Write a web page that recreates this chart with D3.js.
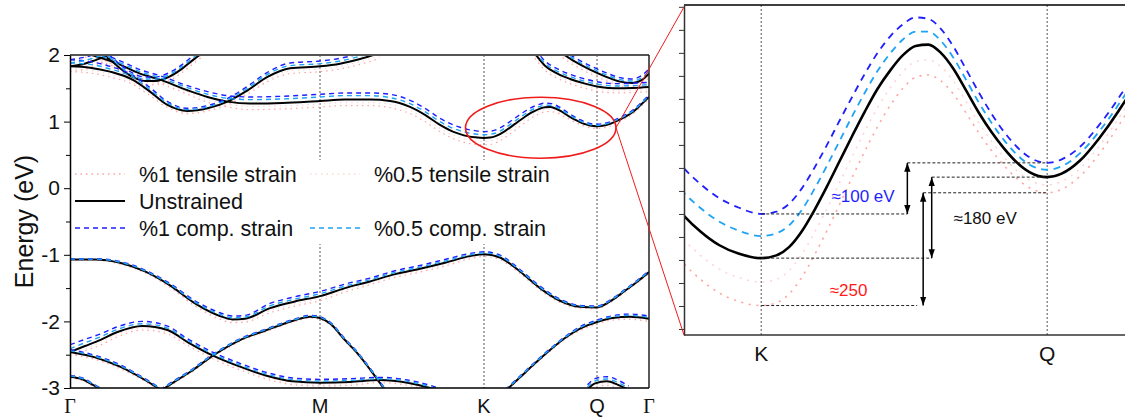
<!DOCTYPE html>
<html>
<head>
<meta charset="utf-8">
<script src="https://cdn.jsdelivr.net/npm/d3@7"></script>
<style>
  body { margin: 0; background: #fff; }
  svg text { font-family: "Liberation Sans", Arial, sans-serif; fill: #111; }
</style>
</head>
<body>
<svg id="chart" width="1125" height="418"></svg>
<script>
// high symmetry points along the k-path
const symLabels = ["Γ", "M", "K", "Q", "Γ"];
const symK = [0, 1, 1.656, 2.108, 2.316];
const energyTicks = [2, 1, 0, -1, -2, -3];
const minorTicks = [1.5, 0.5, -0.5, -1.5, -2.5];
const zoomTicks = [0.6, 0.65, 0.7, 0.75, 0.8, 0.85, 0.9, 0.95, 1.0, 1.05, 1.1, 1.15, 1.2, 1.25, 1.3];

// k grids, one per band
const kCbA = [0, 0.08, 0.16, 0.25, 0.32, 0.39, 0.47, 0.55, 0.63, 0.71, 0.79, 0.88, 1.0, 1.08, 1.16, 1.24];
const kCbB = [0.06, 0.12, 0.19, 0.28, 0.36, 0.47, 0.55, 0.63, 0.72, 0.85, 1.0, 1.1, 1.2, 1.28, 1.36, 1.42, 1.48,
  1.534, 1.56, 1.59, 1.62, 1.656, 1.68, 1.70, 1.72, 1.74, 1.76, 1.78, 1.80, 1.82, 1.84, 1.86, 1.88, 1.90, 1.92,
  1.94, 1.96, 1.98, 2.00, 2.02, 2.04, 2.06, 2.08, 2.108, 2.13, 2.16, 2.19, 2.22, 2.25, 2.28, 2.316];
const kCbC = [0, 0.05, 0.10, 0.15, 0.19];
const kCbD = [0.12, 0.16, 0.20, 0.25, 0.30, 0.34, 0.40, 0.45, 0.50, 0.53];
const kCbE = [1.86, 1.90, 1.95, 2.00, 2.06, 2.12, 2.18, 2.25, 2.316];
const kCbF = [1.97, 2.02, 2.08, 2.14, 2.20, 2.25, 2.29, 2.316];
const kVb1 = [0, 0.1, 0.2, 0.3, 0.4, 0.5, 0.6, 0.65, 0.7, 0.8, 0.9, 1.0, 1.1, 1.2, 1.3, 1.4, 1.5, 1.6, 1.656,
  1.72, 1.8, 1.88, 1.96, 2.04, 2.108, 2.16, 2.22, 2.27, 2.316];
const kVb2a = [0, 0.06, 0.12, 0.19, 0.29, 0.39, 0.47, 0.57, 0.68, 0.79, 0.89, 1.0, 1.12, 1.24, 1.35, 1.44, 1.48];
const kVb2b = [0, 0.1, 0.2, 0.3, 0.36];
const kVb3 = [0.36, 0.42, 0.48, 0.573, 0.68, 0.787, 0.893, 0.96, 1.0, 1.04, 1.1, 1.15, 1.2, 1.26];
const kVb4 = [0, 0.05, 0.09, 0.13];
const kVb5 = [1.74, 1.8, 1.86, 1.92, 1.98, 2.04, 2.108, 2.17, 2.24, 2.316];
const kVb6 = [2.07, 2.10, 2.148, 2.19, 2.235];
const bandK = [kCbA, kCbB, kCbC, kCbD, kCbE, kCbF, kVb1, kVb2a, kVb2b, kVb3, kVb4, kVb5, kVb6];

// energies (eV), same band order as bandK
const unstrained = [
  [1.83, 1.81, 1.75, 1.63, 1.45, 1.25, 1.16, 1.20, 1.30, 1.47, 1.67, 1.80, 1.83, 1.87, 1.94, 2.03],
  [2.03, 1.96, 1.87, 1.72, 1.63, 1.47, 1.37, 1.30, 1.27, 1.28, 1.31, 1.33, 1.33, 1.31, 1.22, 1.10, 0.95,
   0.846, 0.812, 0.782, 0.764, 0.754, 0.760, 0.778, 0.812, 0.858, 0.910, 0.965, 1.020, 1.073, 1.122, 1.162,
   1.195, 1.215, 1.218, 1.200, 1.165, 1.118, 1.070, 1.028, 0.992, 0.962, 0.941, 0.930, 0.937, 0.966, 1.014,
   1.072, 1.14, 1.24, 1.37],
  [1.83, 1.86, 1.92, 1.99, 2.05],
  [2.02, 1.93, 1.80, 1.67, 1.61, 1.61, 1.68, 1.80, 1.95, 2.03],
  [2.02, 1.84, 1.72, 1.64, 1.57, 1.52, 1.50, 1.505, 1.52],
  [2.02, 1.90, 1.78, 1.68, 1.60, 1.58, 1.63, 1.72],
  [-1.07, -1.07, -1.12, -1.25, -1.46, -1.73, -1.92, -1.97, -1.96, -1.80, -1.70, -1.62, -1.50, -1.40, -1.29,
   -1.21, -1.12, -1.02, -0.99, -1.04, -1.25, -1.50, -1.69, -1.78, -1.79, -1.70, -1.54, -1.40, -1.26],
  [-2.46, -2.37, -2.28, -2.16, -2.07, -2.13, -2.31, -2.51, -2.68, -2.82, -2.90, -2.92, -2.91, -2.88, -2.92, -3.0, -3.05],
  [-2.46, -2.54, -2.68, -2.88, -3.02],
  [-3.05, -2.90, -2.76, -2.51, -2.28, -2.13, -1.99, -1.93, -1.95, -2.03, -2.28, -2.48, -2.72, -3.03],
  [-2.83, -2.87, -2.95, -3.04],
  [-3.05, -2.84, -2.63, -2.43, -2.25, -2.11, -2.01, -1.95, -1.93, -1.96],
  [-3.02, -2.93, -2.90, -2.95, -3.03]
];
const comp1 = [
  [1.93, 1.90, 1.83, 1.70, 1.51, 1.30, 1.20, 1.24, 1.35, 1.53, 1.74, 1.88, 1.91, 1.95, 2.02, 2.11],
  [2.09, 2.02, 1.93, 1.78, 1.69, 1.54, 1.45, 1.39, 1.37, 1.38, 1.41, 1.43, 1.43, 1.41, 1.32, 1.20, 1.05,
   0.949, 0.915, 0.884, 0.864, 0.850, 0.855, 0.872, 0.905, 0.950, 1.000, 1.053, 1.105, 1.155, 1.200, 1.236,
   1.262, 1.277, 1.274, 1.252, 1.213, 1.164, 1.114, 1.068, 1.028, 0.996, 0.973, 0.961, 0.968, 0.996, 1.043,
   1.100, 1.168, 1.268, 1.40],
  [1.93, 1.96, 2.01, 2.08, 2.14],
  [2.08, 1.99, 1.86, 1.73, 1.67, 1.67, 1.74, 1.86, 2.01, 2.09],
  [2.09, 1.91, 1.79, 1.71, 1.64, 1.59, 1.57, 1.575, 1.59],
  [2.08, 1.96, 1.84, 1.74, 1.66, 1.64, 1.70, 1.79],
  [-1.06, -1.06, -1.10, -1.23, -1.43, -1.69, -1.87, -1.92, -1.91, -1.73, -1.63, -1.55, -1.44, -1.35, -1.24,
   -1.16, -1.07, -0.98, -0.955, -1.005, -1.22, -1.47, -1.665, -1.76, -1.77, -1.68, -1.52, -1.38, -1.24],
  [-2.35, -2.27, -2.19, -2.08, -2.00, -2.07, -2.26, -2.46, -2.63, -2.77, -2.85, -2.87, -2.86, -2.84, -2.88, -2.96, -3.01],
  [-2.42, -2.51, -2.65, -2.86, -3.00],
  [-3.03, -2.88, -2.74, -2.49, -2.26, -2.11, -1.97, -1.91, -1.93, -2.01, -2.26, -2.46, -2.70, -3.01],
  [-2.81, -2.85, -2.93, -3.02],
  [-3.03, -2.82, -2.61, -2.41, -2.23, -2.08, -1.98, -1.915, -1.89, -1.92],
  [-2.95, -2.86, -2.83, -2.88, -2.97]
];
const comp05 = [
  [1.88, 1.86, 1.79, 1.67, 1.48, 1.28, 1.18, 1.22, 1.33, 1.50, 1.71, 1.84, 1.87, 1.91, 1.98, 2.07],
  [2.06, 1.99, 1.90, 1.75, 1.66, 1.51, 1.41, 1.35, 1.33, 1.34, 1.37, 1.39, 1.39, 1.36, 1.27, 1.15, 1.00,
   0.896, 0.863, 0.833, 0.814, 0.802, 0.808, 0.825, 0.858, 0.904, 0.955, 1.009, 1.063, 1.114, 1.161, 1.199,
   1.229, 1.246, 1.246, 1.226, 1.189, 1.141, 1.092, 1.048, 1.010, 0.979, 0.957, 0.946, 0.953, 0.982, 1.029,
   1.086, 1.154, 1.254, 1.385],
  [1.88, 1.91, 1.96, 2.03, 2.09],
  [2.05, 1.96, 1.83, 1.70, 1.64, 1.64, 1.71, 1.83, 1.98, 2.06],
  [2.055, 1.875, 1.755, 1.675, 1.605, 1.555, 1.535, 1.54, 1.555],
  [2.05, 1.93, 1.81, 1.71, 1.63, 1.61, 1.665, 1.755],
  [-1.065, -1.065, -1.11, -1.24, -1.445, -1.71, -1.895, -1.945, -1.935, -1.765, -1.665, -1.585, -1.47, -1.375,
   -1.265, -1.185, -1.095, -1.0, -0.972, -1.022, -1.235, -1.485, -1.678, -1.77, -1.78, -1.69, -1.53, -1.39, -1.25],
  [-2.41, -2.32, -2.235, -2.12, -2.035, -2.10, -2.285, -2.485, -2.655, -2.795, -2.875, -2.895, -2.885, -2.86, -2.90, -2.98, -3.03],
  [-2.44, -2.525, -2.665, -2.87, -3.01],
  [-3.04, -2.89, -2.75, -2.50, -2.27, -2.12, -1.98, -1.92, -1.94, -2.02, -2.27, -2.47, -2.71, -3.02],
  [-2.82, -2.86, -2.94, -3.03],
  [-3.04, -2.83, -2.62, -2.42, -2.24, -2.095, -1.995, -1.93, -1.91, -1.94],
  [-2.985, -2.895, -2.865, -2.915, -3.0]
];
const tens05 = [
  [1.79, 1.77, 1.71, 1.59, 1.42, 1.23, 1.14, 1.18, 1.27, 1.44, 1.63, 1.76, 1.79, 1.83, 1.90, 1.99],
  [2.00, 1.93, 1.84, 1.69, 1.60, 1.44, 1.33, 1.26, 1.23, 1.235, 1.265, 1.285, 1.285, 1.26, 1.17, 1.05, 0.90,
   0.794, 0.760, 0.730, 0.712, 0.702, 0.708, 0.727, 0.762, 0.809, 0.862, 0.918, 0.975, 1.030, 1.081, 1.124,
   1.159, 1.181, 1.185, 1.170, 1.138, 1.094, 1.048, 1.008, 0.973, 0.944, 0.924, 0.913, 0.920, 0.949, 0.997,
   1.056, 1.125, 1.225, 1.355],
  [1.79, 1.82, 1.88, 1.95, 2.01],
  [1.99, 1.90, 1.77, 1.64, 1.58, 1.58, 1.65, 1.77, 1.92, 2.00],
  [1.985, 1.805, 1.685, 1.605, 1.535, 1.485, 1.465, 1.47, 1.485],
  [1.99, 1.87, 1.75, 1.65, 1.57, 1.55, 1.60, 1.69],
  [-1.075, -1.075, -1.13, -1.26, -1.475, -1.75, -1.945, -1.995, -1.985, -1.835, -1.735, -1.655, -1.53, -1.425,
   -1.315, -1.235, -1.145, -1.04, -1.008, -1.058, -1.265, -1.515, -1.702, -1.79, -1.80, -1.71, -1.55, -1.41, -1.27],
  [-2.50, -2.41, -2.32, -2.195, -2.10, -2.16, -2.335, -2.535, -2.705, -2.845, -2.925, -2.945, -2.935, -2.90, -2.94, -3.02, -3.07],
  [-2.48, -2.555, -2.695, -2.89, -3.03],
  [-3.06, -2.91, -2.77, -2.52, -2.29, -2.14, -2.00, -1.94, -1.96, -2.04, -2.29, -2.49, -2.73, -3.04],
  [-2.84, -2.88, -2.96, -3.05],
  [-3.06, -2.85, -2.64, -2.44, -2.26, -2.125, -2.025, -1.965, -1.95, -1.98],
  [-3.05, -2.96, -2.93, -2.98, -3.06]
];
const tens1 = [
  [1.75, 1.73, 1.67, 1.56, 1.39, 1.21, 1.12, 1.16, 1.25, 1.41, 1.60, 1.72, 1.75, 1.79, 1.86, 1.95],
  [1.97, 1.90, 1.81, 1.66, 1.57, 1.41, 1.29, 1.22, 1.18, 1.19, 1.22, 1.24, 1.24, 1.21, 1.12, 1.00, 0.85,
   0.742, 0.708, 0.678, 0.660, 0.651, 0.657, 0.676, 0.712, 0.760, 0.814, 0.871, 0.930, 0.987, 1.040, 1.086,
   1.123, 1.147, 1.152, 1.139, 1.110, 1.069, 1.026, 0.988, 0.955, 0.927, 0.907, 0.896, 0.903, 0.932, 0.980,
   1.040, 1.110, 1.210, 1.34],
  [1.75, 1.78, 1.84, 1.91, 1.97],
  [1.96, 1.87, 1.74, 1.61, 1.55, 1.55, 1.62, 1.74, 1.89, 1.97],
  [1.95, 1.77, 1.65, 1.57, 1.50, 1.45, 1.43, 1.435, 1.45],
  [1.96, 1.84, 1.72, 1.62, 1.54, 1.52, 1.57, 1.66],
  [-1.08, -1.08, -1.14, -1.27, -1.49, -1.77, -1.97, -2.02, -2.01, -1.87, -1.77, -1.69, -1.56, -1.45, -1.34,
   -1.26, -1.17, -1.06, -1.025, -1.075, -1.28, -1.53, -1.715, -1.80, -1.81, -1.72, -1.56, -1.42, -1.28],
  [-2.53, -2.44, -2.36, -2.23, -2.13, -2.19, -2.36, -2.56, -2.73, -2.87, -2.95, -2.97, -2.96, -2.92, -2.96, -3.04, -3.09],
  [-2.50, -2.57, -2.71, -2.90, -3.04],
  [-3.07, -2.92, -2.78, -2.53, -2.30, -2.15, -2.01, -1.95, -1.97, -2.05, -2.30, -2.50, -2.74, -3.05],
  [-2.85, -2.89, -2.97, -3.06],
  [-3.07, -2.86, -2.65, -2.45, -2.27, -2.14, -2.04, -1.98, -1.97, -2.0],
  [-3.08, -2.99, -2.96, -3.01, -3.09]
];

const seriesNames = ["%1 tensile strain", "%0.5 tensile strain", "Unstrained", "%1 comp. strain", "%0.5 comp. strain"];
const seriesData = [tens1, tens05, unstrained, comp1, comp05];

// gap annotations in the zoom panel (series index, label)
const gapSeries = [3, 2, 0];
const gapLabels = ["≈100 eV", "≈180 eV", "≈250"];
const gapArrowK = [1.887, 1.9255, 1.912];
const gapLabelK = [1.817, 2.010, 1.794];
const gapLabelE = [0.888, 0.841, 0.685];

// zoomed window marked on the main plot
const zoomWinK = [1.582, 2.184];
const zoomWinE = [0.45, 1.366];

// ---- styles ----
const styles = [
  {color: "#ffa3a3", width: 1.2, dash: "1.5,4"},
  {color: "#ffd6d6", width: 1.2, dash: "1.5,4"},
  {color: "#000", width: 2, dash: null},
  {color: "#1f1fff", width: 1.4, dash: "5,4"},
  {color: "#1fa3f5", width: 1.4, dash: "5,4"}
];
const drawOrder = [1, 0, 2, 3, 4];
const gapColors = ["#1f1fff", "#111", "#ff1a1a"];

const svg = d3.select("#chart");
const defs = svg.append("defs");

// main panel scales
const x = d3.scaleLinear().domain([0, 2.316]).range([70, 649]);
const y = d3.scaleLinear().domain([-3, 2]).range([388, 55]);
// zoom panel scales
const xz = d3.scaleLinear().domain([1.534, 2.231]).range([684, 1125]);
const yz = d3.scaleLinear().domain([0.587, 1.304]).range([335, 5]);

defs.append("clipPath").attr("id", "clipMain").append("rect")
  .attr("x", x.range()[0]).attr("y", y.range()[1])
  .attr("width", x.range()[1] - x.range()[0]).attr("height", y.range()[0] - y.range()[1]);
defs.append("clipPath").attr("id", "clipZoom").append("rect")
  .attr("x", xz.range()[0]).attr("y", yz.range()[1])
  .attr("width", xz.range()[1] - xz.range()[0]).attr("height", yz.range()[0] - yz.range()[1]);

defs.append("marker").attr("id", "arrowHead")
  .attr("viewBox", "0 0 10 10").attr("refX", 10).attr("refY", 5)
  .attr("markerWidth", 9).attr("markerHeight", 9)
  .attr("markerUnits", "userSpaceOnUse").attr("orient", "auto-start-reverse")
  .append("path").attr("d", "M0,1.5 L10,5 L0,8.5 Z").attr("fill", "#000");

function drawBands(g, xs, ys, widthScale, dashScale) {
  const line = d3.line().curve(d3.curveMonotoneX)
    .x(d => xs(d[0])).y(d => ys(d[1]));
  drawOrder.forEach(s => {
    const st = styles[s];
    seriesData[s].forEach((vals, b) => {
      g.append("path")
        .datum(bandK[b].map((k, i) => [k, vals[i]]))
        .attr("d", line)
        .attr("fill", "none")
        .attr("stroke", st.color)
        .attr("stroke-width", st.width * widthScale)
        .attr("stroke-dasharray", st.dash ? st.dash.split(",").map(v => v * dashScale).join(",") : null);
    });
  });
}

// ===== main band structure panel =====
const main = svg.append("g");

// vertical lines at M, K, Q
main.selectAll(".vline").data(symK.slice(1, 4)).join("line")
  .attr("x1", d => x(d)).attr("x2", d => x(d))
  .attr("y1", y(2)).attr("y2", y(-3))
  .attr("stroke", "#555").attr("stroke-width", 1).attr("stroke-dasharray", "2,2");

drawBands(main.append("g").attr("clip-path", "url(#clipMain)"), x, y, 1, 1);

// frame
main.append("line").attr("x1", x(0)).attr("x2", x(2.316)).attr("y1", y(2)).attr("y2", y(2))
  .attr("stroke", "#555").attr("stroke-width", 2);
main.append("line").attr("x1", x(2.316)).attr("x2", x(2.316)).attr("y1", y(2)).attr("y2", y(-3))
  .attr("stroke", "#222").attr("stroke-width", 1.5);
main.append("line").attr("x1", x(0)).attr("x2", x(2.316)).attr("y1", y(-3)).attr("y2", y(-3))
  .attr("stroke", "#000").attr("stroke-width", 1.5);

const yAxis = main.append("g").attr("transform", `translate(${x(0)},0)`)
  .call(d3.axisLeft(y).tickValues(energyTicks).tickFormat(d => String(d)).tickSize(6).tickSizeOuter(0).tickPadding(4));
yAxis.select(".domain").attr("stroke-width", 1.5);
yAxis.selectAll("text").style("font-size", "21px").attr("fill", "#111");
main.append("g").attr("transform", `translate(${x(0)},0)`)
  .call(d3.axisLeft(y).tickValues(minorTicks).tickFormat("").tickSize(4).tickSizeOuter(0))
  .select(".domain").remove();

main.append("text")
  .attr("transform", `translate(33,${(y(2) + y(-3)) / 2}) rotate(-90)`)
  .attr("text-anchor", "middle").style("font-size", "25px").text("Energy (eV)");

main.selectAll(".klabel").data(symLabels).join("text")
  .attr("x", (d, i) => x(symK[i])).attr("y", 413)
  .attr("text-anchor", "middle")
  .style("font-size", "20px")
  .style("font-family", d => d === "Γ" ? "'Liberation Serif', 'Times New Roman', serif" : null)
  .text(d => d);

// legend
const legend = main.append("g");
legend.append("rect").attr("x", 72).attr("y", 160).attr("width", 488).attr("height", 84).attr("fill", "#fff");
const legendPos = [[0, 0], [1, 0], [0, 1], [0, 2], [1, 2]];
const colX = [75, 310];
const rowY = [174, 201, 228];
seriesNames.forEach((name, i) => {
  const [c, r] = legendPos[i];
  const st = styles[i];
  legend.append("line")
    .attr("x1", colX[c]).attr("x2", colX[c] + 50)
    .attr("y1", rowY[r]).attr("y2", rowY[r])
    .attr("stroke", st.color).attr("stroke-width", st.width * 1.1)
    .attr("stroke-dasharray", st.dash);
  legend.append("text")
    .attr("x", colX[c] + 64).attr("y", rowY[r] + 7.5)
    .style("font-size", "21.5px").text(name);
});

// ===== zoom panel =====
const zoom = svg.append("g");
zoom.selectAll(".vline").data([symK[2], symK[3]]).join("line")
  .attr("x1", d => xz(d)).attr("x2", d => xz(d))
  .attr("y1", yz.range()[1]).attr("y2", yz.range()[0])
  .attr("stroke", "#555").attr("stroke-width", 1).attr("stroke-dasharray", "2,2");

drawBands(zoom.append("g").attr("clip-path", "url(#clipZoom)"), xz, yz, 1.3, 1.4);

// gap annotations
const iK = kCbB.indexOf(symK[2]);
const iQ = kCbB.indexOf(symK[3]);
gapSeries.forEach((s, i) => {
  const eK = seriesData[s][1][iK];
  const eQ = seriesData[s][1][iQ];
  const ax = xz(gapArrowK[i]);
  zoom.append("line").attr("x1", xz(symK[2])).attr("x2", ax - (i === 2 ? 6 : 0))
    .attr("y1", yz(eK)).attr("y2", yz(eK))
    .attr("stroke", "#222").attr("stroke-width", 1).attr("stroke-dasharray", "3,2");
  zoom.append("line").attr("x1", ax).attr("x2", xz(symK[3]))
    .attr("y1", yz(eQ)).attr("y2", yz(eQ))
    .attr("stroke", "#222").attr("stroke-width", 1).attr("stroke-dasharray", "3,2");
  zoom.append("line").attr("x1", ax).attr("x2", ax)
    .attr("y1", yz(eQ)).attr("y2", yz(eK))
    .attr("stroke", "#000").attr("stroke-width", 1.5)
    .attr("marker-start", "url(#arrowHead)").attr("marker-end", "url(#arrowHead)");
  zoom.append("text")
    .attr("x", xz(gapLabelK[i])).attr("y", yz(gapLabelE[i]) + 6)
    .attr("text-anchor", "middle").style("font-size", "17px")
    .style("fill", gapColors[i]).text(gapLabels[i]);
});

// zoom panel frame and axis
zoom.append("line").attr("x1", xz.range()[0]).attr("x2", xz.range()[1]).attr("y1", yz.range()[1]).attr("y2", yz.range()[1])
  .attr("stroke", "#000").attr("stroke-width", 1.5);
zoom.append("line").attr("x1", xz.range()[0]).attr("x2", xz.range()[1]).attr("y1", yz.range()[0]).attr("y2", yz.range()[0])
  .attr("stroke", "#333").attr("stroke-width", 1.5);
const zAxis = zoom.append("g").attr("transform", `translate(${xz.range()[0]},0)`)
  .call(d3.axisLeft(yz).tickValues(zoomTicks).tickFormat("").tickSize(5).tickSizeOuter(0));
zAxis.select(".domain").attr("stroke-width", 1.5).attr("stroke", "#333");
zAxis.selectAll(".tick line").attr("stroke", "#333");

zoom.selectAll(".zlabel").data([2, 3]).join("text")
  .attr("x", d => xz(symK[d])).attr("y", 361)
  .attr("text-anchor", "middle").style("font-size", "21px")
  .text(d => symLabels[d]);

// ===== red zoom marker =====
const ex = (x(zoomWinK[0]) + x(zoomWinK[1])) / 2;
const ey = (y(zoomWinE[0]) + y(zoomWinE[1])) / 2;
const erx = (x(zoomWinK[1]) - x(zoomWinK[0])) / 2;
const ery = (y(zoomWinE[0]) - y(zoomWinE[1])) / 2;
svg.append("ellipse").attr("cx", ex).attr("cy", ey).attr("rx", erx).attr("ry", ery)
  .attr("fill", "none").attr("stroke", "#f01c1c").attr("stroke-width", 1.6);
[yz.range()[1] + 2, yz.range()[0]].forEach(py => {
  svg.append("line").attr("x1", ex + erx).attr("y1", ey)
    .attr("x2", xz.range()[0]).attr("y2", py)
    .attr("stroke", "#f01c1c").attr("stroke-width", 1);
});
</script>
</body>
</html>
